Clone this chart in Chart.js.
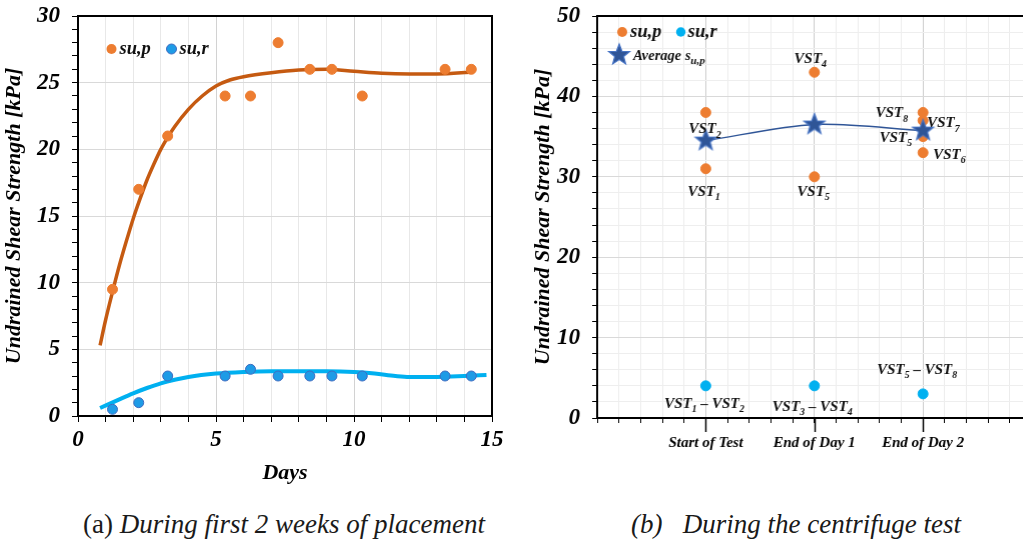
<!DOCTYPE html>
<html><head><meta charset="utf-8">
<script src="https://cdn.jsdelivr.net/npm/chart.js@4.4.1/dist/chart.umd.min.js"></script>
<style>
html,body{margin:0;padding:0;background:#fff;width:1023px;height:546px;overflow:hidden;position:relative;}
#ca{position:absolute;left:0;top:0;}
#cb{position:absolute;left:520px;top:0;}
.cap{position:absolute;top:508px;font-family:'Liberation Serif','Times New Roman',serif;font-size:27px;line-height:32px;color:#1a1a1a;white-space:pre;}
</style></head><body>
<canvas id="ca" width="505" height="490"></canvas>
<canvas id="cb" width="503" height="490"></canvas>
<div class="cap" style="left:83px">(a) <i>During first 2 weeks of placement</i></div>
<div class="cap" style="left:631px"><i>(b)   During the centrifuge test</i></div>
<script>
// ---------- data: chart (a) ----------
const daysA = [1.25, 2.2, 3.25, 5.33, 6.25, 7.25, 8.4, 9.2, 10.3, 13.3, 14.25];
const suPA = [9.5, 17, 21, 24, 24, 28, 26, 26, 24, 26, 26];
const suRA = [0.5, 1, 3, 3, 3.5, 3, 3, 3, 3, 3, 3];
const fitPDays = [0.8, 1.0, 1.25, 1.5, 1.75, 2.0, 2.25, 2.5, 2.75, 3.0, 3.25, 3.5, 4.0, 4.5, 5.0, 5.5, 6, 7, 8, 9, 10, 11, 12, 13, 14.33];
const fitPVals = [5.3, 7.2, 9.3, 11.3, 13.1, 14.8, 16.3, 17.7, 18.9, 20.0, 20.9, 21.7, 23.0, 24.0, 24.75, 25.2, 25.45, 25.75, 25.95, 26.0, 25.85, 25.7, 25.65, 25.65, 25.8];
const fitRDays = [0.8, 1.5, 2, 2.5, 3, 3.5, 4, 5, 6, 7, 8, 9, 10, 10.75, 11.5, 12, 13, 14, 14.8];
const fitRVals = [0.6, 1.25, 1.7, 2.1, 2.45, 2.72, 2.93, 3.18, 3.3, 3.35, 3.35, 3.35, 3.3, 3.18, 3.0, 2.93, 2.93, 3.0, 3.08];

// ---------- data: chart (b) ----------
const stages = ['Start of Test', 'End of Day 1', 'End of Day 2'];
const vstStage = [0, 0, 1, 1, 2, 2, 2, 2];
const vstSuP = [31, 38, 43, 30, 35, 33, 37, 38];
const vstNames = ['VST{1}', 'VST{2}', 'VST{4}', 'VST{5}', 'VST{5}', 'VST{6}', 'VST{7}', 'VST{8}'];
const avgSuP = [34.5, 36.5, 35.75];
const suRB = [4, 4, 3];
const suRNames = ['VST{1} – VST{2}', 'VST{3} – VST{4}', 'VST{5} – VST{8}'];

// label placement (pixel offsets from the point, not data)
const vstLabelPos = [
  {dx:-2, dy:22, align:'center'}, {dx:-1, dy:16, align:'center'},
  {dx:-4, dy:-14, align:'center'}, {dx:-1, dy:14, align:'center'},
  {dx:-11, dy:0, align:'right'}, {dx:10, dy:1, align:'left'},
  {dx:4, dy:2, align:'left'}, {dx:-15, dy:0, align:'right'}
];
const suRLabelPos = [{dx:-1.5, dy:17.5}, {dx:-2, dy:20}, {dx:-6, dy:-25}];

const FONT = "'Liberation Serif','Times New Roman',serif";
const bi = (s) => `italic bold ${s}px ${FONT}`;
const isInt = v => Math.abs(v - Math.round(v)) < 1e-6;
const fnt = (s) => ({family:FONT, size:s, style:'italic', weight:'bold'});

function makeStar(r) {
  const c = document.createElement('canvas');
  const s = Math.ceil(r * 2 + 4);
  c.width = s; c.height = s;
  const g = c.getContext('2d');
  g.beginPath();
  for (let i = 0; i < 10; i++) {
    const rad = i % 2 ? r * 0.42 : r;
    const a = -Math.PI / 2 + i * Math.PI / 5;
    g.lineTo(s / 2 + rad * Math.cos(a), s / 2 + rad * Math.sin(a));
  }
  g.closePath();
  g.fillStyle = '#2F5597'; g.fill();
  g.strokeStyle = '#4472C4'; g.lineWidth = 1.2; g.stroke();
  return c;
}
const star = makeStar(11);

function richText(ctx, str, x, yc, align, size, subSize) {
  const parts = [];
  const re = /([^{}]+)|\{([^}]*)\}/g; let m;
  while ((m = re.exec(str))) parts.push(m[1] !== undefined ? {t:m[1], sub:false} : {t:m[2], sub:true});
  let w = 0;
  parts.forEach(p => { ctx.font = bi(p.sub ? subSize : size); p.w = ctx.measureText(p.t).width; w += p.w; });
  let cx = align === 'center' ? x - w / 2 : align === 'right' ? x - w : x;
  const base = yc + size * 0.33;
  ctx.textAlign = 'left'; ctx.textBaseline = 'alphabetic'; ctx.fillStyle = '#111';
  parts.forEach(p => {
    ctx.font = bi(p.sub ? subSize : size);
    ctx.fillText(p.t, cx, p.sub ? base + size * 0.28 : base);
    cx += p.w;
  });
}

const fitX = (h) => (s) => { s.height = h; s.paddingLeft = 0; s.paddingRight = 0; };
const fitY = (w) => (s) => { s.width = w; s.paddingTop = 0; s.paddingBottom = 0; };

const frameA = {
  id: 'frameA',
  afterDraw(chart) {
    const {ctx, chartArea: a} = chart;
    ctx.save(); ctx.strokeStyle = '#000'; ctx.lineWidth = 2;
    ctx.strokeRect(a.left, a.top, a.right - a.left, a.bottom - a.top);
    // legend
    const ly = a.top + 33;
    ctx.fillStyle = '#ED7D31';
    ctx.beginPath(); ctx.arc(a.left + 33.5, ly, 5, 0, Math.PI * 2); ctx.fill();
    ctx.fillStyle = '#1E9BE6'; ctx.strokeStyle = '#3F6CC0'; ctx.lineWidth = 1;
    ctx.beginPath(); ctx.arc(a.left + 93.5, ly, 5, 0, Math.PI * 2); ctx.fill(); ctx.stroke();
    ctx.fillStyle = '#111'; ctx.font = bi(18.5); ctx.textBaseline = 'middle'; ctx.textAlign = 'left';
    ctx.fillText('su,p', a.left + 41.5, ly);
    ctx.fillText('su,r', a.left + 101.5, ly);
    ctx.restore();
  }
};

const chartA = new Chart(document.getElementById('ca'), {
  type: 'scatter',
  data: {datasets: [
    {label:'fit su,p', type:'line', data: fitPDays.map((x, i) => ({x, y: fitPVals[i]})), borderColor:'#C55A11', borderWidth:3.5, pointRadius:0, cubicInterpolationMode:'monotone', fill:false, order:3},
    {label:'fit su,r', type:'line', data: fitRDays.map((x, i) => ({x, y: fitRVals[i]})), borderColor:'#00B0F0', borderWidth:4, pointRadius:0, cubicInterpolationMode:'monotone', fill:false, order:4},
    {label:'su,p', data: daysA.map((x, i) => ({x, y: suPA[i]})), backgroundColor:'#ED7D31', borderColor:'#ED7D31', pointRadius:5, order:1},
    {label:'su,r', data: daysA.map((x, i) => ({x, y: suRA[i]})), backgroundColor:'#1E9BE6', borderColor:'#3F6CC0', borderWidth:1, pointRadius:5, order:2}
  ]},
  options: {
    responsive:false, maintainAspectRatio:false, animation:false, events:[],
    layout:{padding:{left:0, top:16, right:14, bottom:0}},
    plugins:{legend:{display:false}, tooltip:{enabled:false}},
    scales:{
      x:{type:'linear', min:0, max:15, afterFit: fitX(74),
        ticks:{stepSize:1, autoSkip:false, maxRotation:0, callback: v => isInt(v) && Math.round(v) % 5 === 0 ? String(Math.round(v)) : '', font:fnt(23), color:'#000', padding:4},
        grid:{color: c => (c.tick && Math.round(c.tick.value) % 5 === 0) ? '#d2d2d2' : '#e8e8e8', tickColor:'#000', tickLength:6},
        border:{color:'#000', width:2},
        title:{display:true, text:'Days', font:fnt(22), color:'#000', padding:{top:0, bottom:3}}},
      y:{min:0, max:30, afterFit: fitY(78),
        ticks:{stepSize:1, autoSkip:false, callback: v => isInt(v) && Math.round(v) % 5 === 0 ? String(Math.round(v)) : '', font:fnt(23), color:'#000', padding:12},
        grid:{color: c => (c.tick && Math.round(c.tick.value) % 5 === 0) ? '#d9d9d9' : 'rgba(0,0,0,0)', tickColor:'#000', tickLength:6},
        border:{color:'#000', width:2},
        title:{display:true, text:'Undrained Shear Strength [kPa]', font:fnt(22), color:'#000', padding:{top:1, bottom:0}}}
    }
  },
  plugins:[frameA]
});

const decoB = {
  id: 'decoB',
  afterDraw(chart) {
    const {ctx, chartArea: a, scales: {x, y}} = chart;
    ctx.save();
    ctx.strokeStyle = '#000'; ctx.lineWidth = 2;
    ctx.beginPath(); ctx.moveTo(a.left, a.top); ctx.lineTo(a.right, a.top); ctx.stroke();
    ctx.lineWidth = 1.5;
    stages.forEach((s, i) => {
      const px = Math.round(x.getPixelForValue(i + 1)) + 0.5;
      ctx.beginPath(); ctx.moveTo(px, a.bottom); ctx.lineTo(px, a.bottom + 14); ctx.stroke();
    });
    // labels
    vstSuP.forEach((v, i) => {
      const p = vstLabelPos[i];
      richText(ctx, vstNames[i], x.getPixelForValue(vstStage[i] + 1) + p.dx, y.getPixelForValue(v) + p.dy, p.align, 15, 10);
    });
    suRB.forEach((v, i) => {
      const p = suRLabelPos[i];
      richText(ctx, suRNames[i], x.getPixelForValue(i + 1) + p.dx, y.getPixelForValue(v) + p.dy, 'center', 15, 10);
    });
    // legend
    const l = a.left, t = a.top;
    ctx.fillStyle = '#ED7D31';
    ctx.beginPath(); ctx.arc(l + 25, t + 16, 5, 0, Math.PI * 2); ctx.fill();
    ctx.fillStyle = '#00B0F0';
    ctx.beginPath(); ctx.arc(l + 83.5, t + 16, 4.7, 0, Math.PI * 2); ctx.fill();
    ctx.drawImage(star, l + 22 - star.width / 2, t + 39 - star.height / 2);
    ctx.fillStyle = '#111'; ctx.font = bi(18.5); ctx.textBaseline = 'middle'; ctx.textAlign = 'left';
    ctx.fillText('su,p', l + 33, t + 16);
    ctx.fillText('su,r', l + 90.5, t + 16);
    richText(ctx, 'Average s{u,p}', l + 36, t + 39, 'left', 14.5, 11);
    ctx.restore();
  }
};

const chartB = new Chart(document.getElementById('cb'), {
  type: 'scatter',
  data: {datasets: [
    {label:'Average su,p', type:'line', data: avgSuP.map((v, i) => ({x: i + 1, y: v})), borderColor:'#2F5597', borderWidth:1.5, pointStyle: star, pointRadius:11, fill:false, tension:0.3, order:1},
    {label:'su,p', data: vstSuP.map((v, i) => ({x: vstStage[i] + 1, y: v})), backgroundColor:'#ED7D31', borderColor:'#ED7D31', pointRadius:5, order:2},
    {label:'su,r', data: suRB.map((v, i) => ({x: i + 1, y: v})), backgroundColor:'#00B0F0', borderColor:'#00B0F0', pointRadius:5, order:3}
  ]},
  options: {
    responsive:false, maintainAspectRatio:false, animation:false, events:[],
    layout:{padding:{left:0, top:16, right:0, bottom:0}},
    plugins:{legend:{display:false}, tooltip:{enabled:false}},
    scales:{
      x:{type:'linear', min:0, max:3.93, afterFit: fitX(72),
        ticks:{stepSize:0.2, includeBounds:false, autoSkip:false, maxRotation:0, callback: v => (isInt(v) && v >= 1 && v <= 3) ? stages[Math.round(v) - 1] : '', font:fnt(15), color:'#000', padding:11},
        grid:{color: c => (c.tick && isInt(c.tick.value)) ? '#cccccc' : '#ececec', tickColor:'#000', tickLength:5},
        border:{color:'#000', width:2}},
      y:{min:0, max:50, afterFit: fitY(77),
        ticks:{stepSize:2, autoSkip:false, callback: v => isInt(v / 10) ? String(Math.round(v)) : '', font:fnt(23), color:'#000', padding:12},
        grid:{color: c => (c.tick && isInt(c.tick.value / 10)) ? '#d9d9d9' : '#eeeeee', tickColor:'#000', tickLength:5},
        border:{color:'#000', width:2},
        title:{display:true, text:'Undrained Shear Strength [kPa]', font:fnt(22), color:'#000', padding:{top:10, bottom:0}}}
    }
  },
  plugins:[decoB]
});
// plot areas: (a) ends at 492 px, (b) runs to the right edge of the page (cut off there in the original)
function fitRight(chart, target, h) {
  for (let k = 0; k < 4; k++) {
    const d = target - chart.chartArea.right;
    if (Math.abs(d) < 0.5) break;
    chart.resize(chart.width + d, h);
  }
}
fitRight(chartA, 492, 490);
fitRight(chartB, 503, 490);
</script>
</body></html>
